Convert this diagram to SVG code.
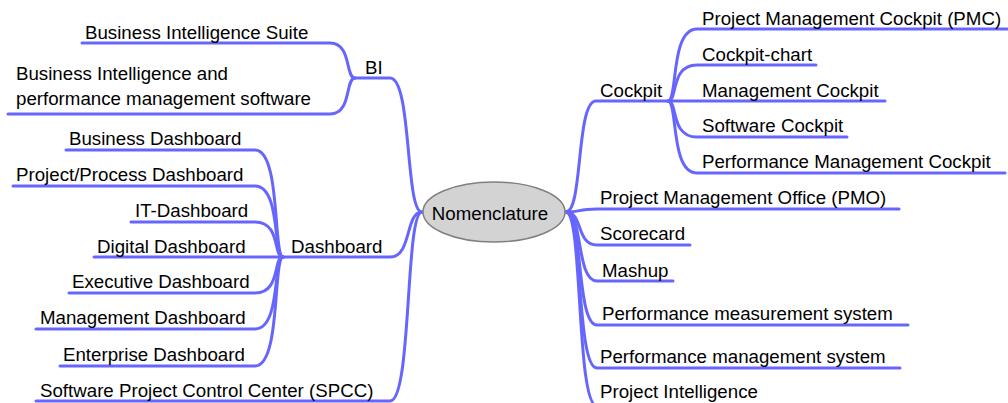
<svg xmlns="http://www.w3.org/2000/svg" width="1008" height="403" viewBox="0 0 1008 403">
<style>
text{font-family:"Liberation Sans",Arial,sans-serif;font-size:18.7px;fill:#000}
.c{fill:none;stroke:#6666ff;stroke-width:3;stroke-linecap:round}
</style>
<rect width="1008" height="403" fill="#fff"/>
<g id="connectors">
<path class="c" d="M422 212C405 212 412 78 390 78L355 78"/>
<path class="c" d="M422 212C405 212 412 257 390 257L283 257"/>
<path class="c" d="M422 212C405 212 412 401 390 401L36 401"/>
<path class="c" d="M355 78C345 78 352 43 330 43L82 43"/>
<path class="c" d="M355 78C345 78 352 114 330 114L8 114"/>
<path class="c" d="M283 257C273 257 281 150 255 150L66 150"/>
<path class="c" d="M283 257C273 257 281 186 255 186L13 186"/>
<path class="c" d="M283 257C273 257 281 222 255 222L131 222"/>
<path class="c" d="M283 257L94 257"/>
<path class="c" d="M283 257C273 257 281 293 255 293L69 293"/>
<path class="c" d="M283 257C273 257 281 329 255 329L36 329"/>
<path class="c" d="M283 257C273 257 281 366 255 366L60 366"/>
<path class="c" d="M566 212C583 212 576 101 596 101L668 101"/>
<path class="c" d="M668 101C678 101 670 29 697 29L1007 29"/>
<path class="c" d="M668 101C678 101 670 65 697 65L816 65"/>
<path class="c" d="M668 101L885 101"/>
<path class="c" d="M668 101C678 101 670 137 697 137L847 137"/>
<path class="c" d="M668 101C678 101 670 173 697 173L1005 173"/>
<path class="c" d="M566 212C583 212 576 209 597 209L899 209"/>
<path class="c" d="M566 212C583 212 576 245 597 245L690 245"/>
<path class="c" d="M566 212C583 212 576 281 597 281L673 281"/>
<path class="c" d="M566 212C583 212 576 325 597 325L908 325"/>
<path class="c" d="M566 212C583 212 576 368 597 368L900 368"/>
<path class="c" d="M566 212C583 212 576 406 597 406L770 406"/>
</g>
<g id="root">
<ellipse cx="494" cy="212" rx="71" ry="30" fill="#d3d3d3" stroke="#808080" stroke-width="1.5"/>
<text x="490" y="220" text-anchor="middle">Nomenclature</text>
</g>
<g id="bi"><text x="365" y="74">BI</text></g>
<g id="bi-suite"><text x="85" y="39">Business Intelligence Suite</text></g>
<g id="bi-pm"><text x="16" y="80">Business Intelligence and</text><text x="16" y="105">performance management software</text></g>
<g id="dashboard"><text x="291" y="253">Dashboard</text></g>
<g id="d-business"><text x="69" y="145">Business Dashboard</text></g>
<g id="d-project"><text x="16" y="181">Project/Process Dashboard</text></g>
<g id="d-it"><text x="135" y="217">IT-Dashboard</text></g>
<g id="d-digital"><text x="97" y="253">Digital Dashboard</text></g>
<g id="d-executive"><text x="72" y="288">Executive Dashboard</text></g>
<g id="d-management"><text x="40" y="324">Management Dashboard</text></g>
<g id="d-enterprise"><text x="63" y="361">Enterprise Dashboard</text></g>
<g id="spcc"><text x="40" y="397">Software Project Control Center (SPCC)</text></g>
<g id="cockpit"><text x="600" y="97">Cockpit</text></g>
<g id="c-pmc"><text x="702" y="25">Project Management Cockpit (PMC)</text></g>
<g id="c-chart"><text x="702" y="61">Cockpit-chart</text></g>
<g id="c-management"><text x="702" y="97">Management Cockpit</text></g>
<g id="c-software"><text x="702" y="132">Software Cockpit</text></g>
<g id="c-performance"><text x="702" y="168">Performance Management Cockpit</text></g>
<g id="pmo"><text x="600" y="204">Project Management Office (PMO)</text></g>
<g id="scorecard"><text x="600" y="240">Scorecard</text></g>
<g id="mashup"><text x="602" y="277">Mashup</text></g>
<g id="pms1"><text x="602" y="320">Performance measurement system</text></g>
<g id="pms2"><text x="600" y="363">Performance management system</text></g>
<g id="pi"><text x="600" y="398">Project Intelligence</text></g>
</svg>
